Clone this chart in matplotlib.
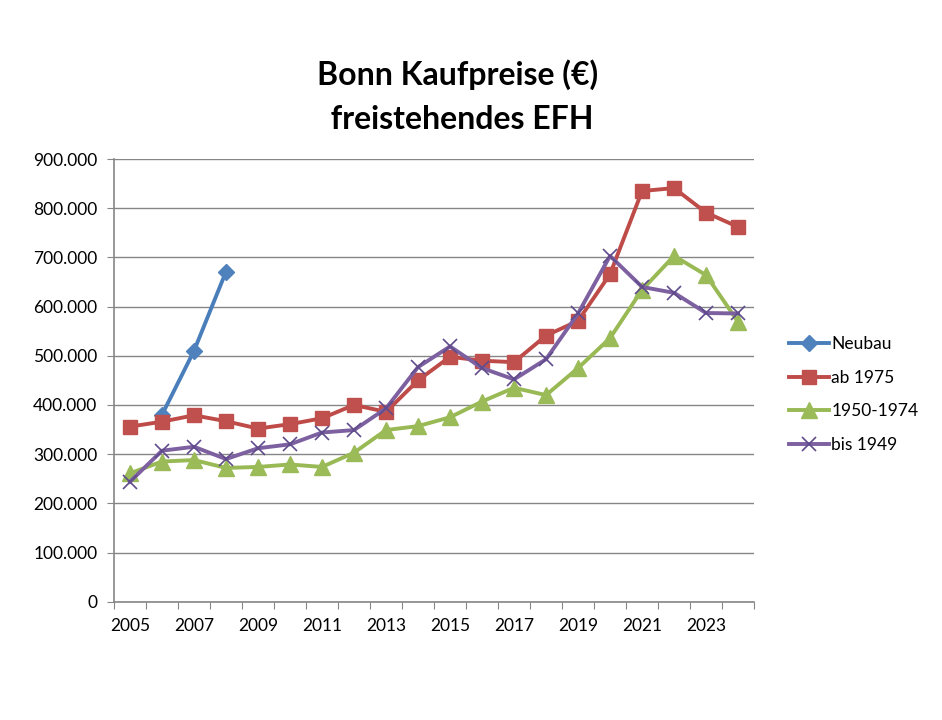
import numpy as np
import matplotlib.pyplot as plt
from matplotlib.ticker import FuncFormatter, FixedLocator

plt.rcParams['font.family'] = ['Lato', 'DejaVu Sans']

years = list(range(2005, 2025))
nan = np.nan
neubau = [nan, 380000, 510000, 671000] + [nan] * 16
ab_1975 = [356000, 366000, 379000, 367000, 352000, 361000, 373000, 400000, 386000, 450000,
           498000, 490000, 487000, 541000, 571000, 666000, 835000, 841000, 791000, 762000]
b1950_1974 = [261000, 285000, 288000, 272000, 274000, 279000, 274000, 303000, 349000, 357000,
              375000, 407000, 435000, 420000, 475000, 536000, 634000, 703000, 664000, 569000]
bis_1949 = [244000, 307000, 315000, 290000, 312000, 320000, 344000, 349000, 393000, 477000,
            519000, 475000, 452000, 493000, 586000, 703000, 640000, 628000, 587000, 586000]

fig = plt.figure(figsize=(9.42, 7.2), dpi=100)
ax = fig.add_axes([0.121, 0.1643, 0.6795, 0.6148])

x = np.arange(len(years))
grid_col = '#868686'

ax.plot(x, neubau, color='#4A7EBB', lw=2.8, marker='D', ms=8.5,
        mfc='#4F81BD', mec='#4F81BD', label='Neubau')
ax.plot(x, ab_1975, color='#BE4B48', lw=2.8, marker='s', ms=10,
        mfc='#C0504D', mec='#C0504D', label='ab 1975')
ax.plot(x, b1950_1974, color='#98B954', lw=2.8, marker='^', ms=11,
        mfc='#9BBB59', mec='#9BBB59', label='1950-1974')
ax.plot(x, bis_1949, color='#7D60A0', lw=2.8, marker='x', ms=10,
        mec='#5F4B8B', mew=1.2, label='bis 1949')

ax.set_xlim(-0.5, len(years) - 0.5)
ax.set_ylim(0, 900000)
ax.set_yticks(np.arange(0, 900001, 100000))
ax.yaxis.set_major_formatter(FuncFormatter(lambda v, p: f'{int(v):,}'.replace(',', '.')))
ax.yaxis.grid(True, color=grid_col, lw=1)
ax.set_axisbelow(True)

# category axis: tick marks between categories, labels on every second year
ax.xaxis.set_major_locator(FixedLocator(np.arange(-0.5, len(years), 1.0)))
ax.xaxis.set_minor_locator(FixedLocator(x[::2]))
ax.set_xticklabels([])
ax.set_xticklabels([str(y) for y in years[::2]], minor=True)
ax.tick_params(axis='x', which='major', length=5, color=grid_col, direction='out')
ax.tick_params(axis='x', which='minor', length=0, pad=12, labelsize=12.5)
ax.tick_params(axis='y', length=5, color=grid_col, labelsize=12.5, pad=7)

for s in ['top', 'right']:
    ax.spines[s].set_visible(False)
for s in ['left', 'bottom']:
    ax.spines[s].set_color(grid_col)
    ax.spines[s].set_linewidth(1.2)

fig.text(0.486, 0.866, 'Bonn Kaufpreise (€)\n freistehendes EFH', ha='center', va='center',
         fontsize=23, fontweight='bold', linespacing=1.6)

ax.legend(loc='center left', bbox_to_anchor=(1.03, 0.468), frameon=False,
          fontsize=12.5, handlelength=2.3, handletextpad=0.15, labelspacing=1.0)

fig.savefig('out.png', dpi=100)
